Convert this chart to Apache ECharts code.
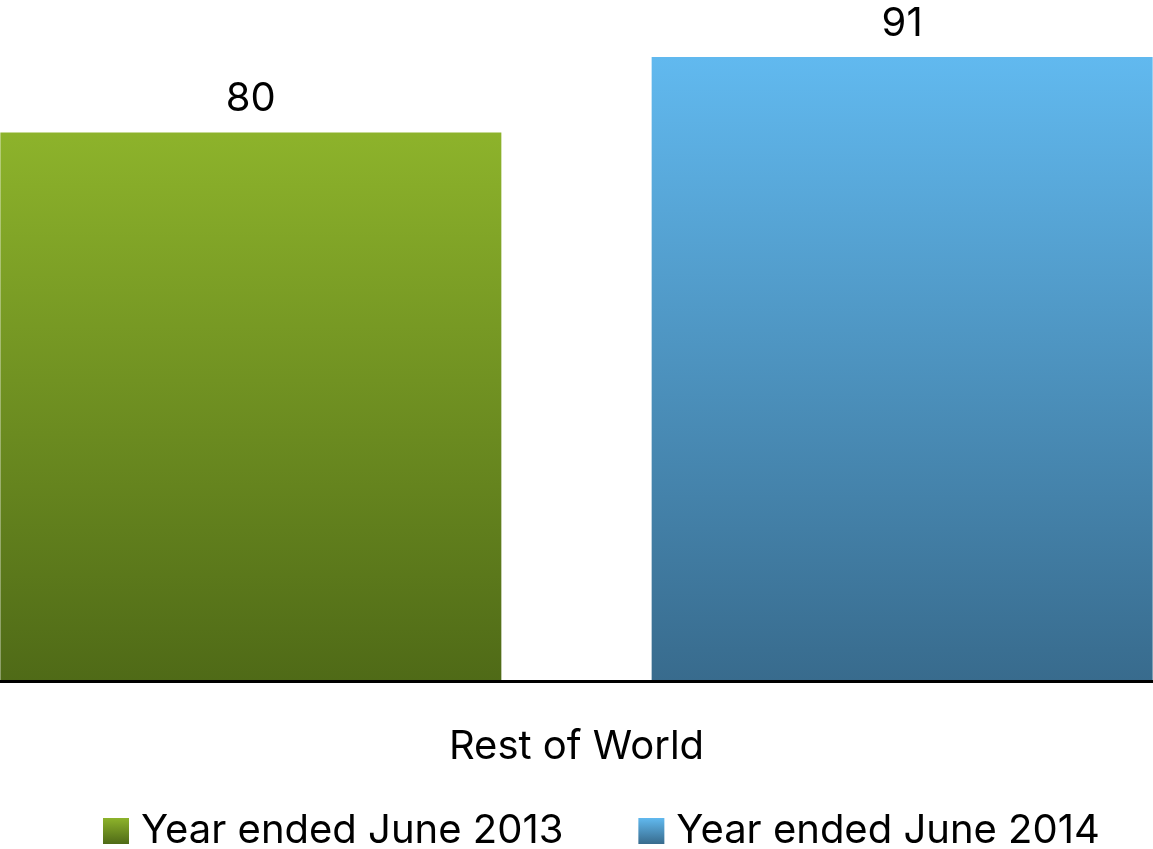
<!DOCTYPE html>
<html><head><meta charset="utf-8">
<script src="https://cdn.jsdelivr.net/npm/echarts@6/dist/echarts.min.js"></script>
<style>html,body{margin:0;padding:0;background:#fff}#c{width:1153px;height:849px}</style>
</head><body><div id="c"></div>
<script>
const categories = ['Rest of World'];
const seriesNames = ['Year ended June 2013', 'Year ended June 2014'];
const values2013 = [80];
const values2014 = [91];

const FONT = 'Inter';
function grad(top, bottom) {
  return new echarts.graphic.LinearGradient(0, 0, 0, 1, [
    { offset: 0, color: top }, { offset: 1, color: bottom }
  ]);
}
const chart = echarts.init(document.getElementById('c'));
chart.setOption({
  animation: false,
  textStyle: { fontFamily: FONT },
  grid: { left: 0, right: 0, top: 0, bottom: 167.5, containLabel: false },
  legend: {
    bottom: -7, left: 98,
    itemWidth: 26, itemHeight: 26, itemGap: 75,
    icon: 'rect',
    textStyle: { fontSize: 40, color: '#000', fontFamily: FONT, padding: [0, 0, 0, 7] },
    data: seriesNames
  },
  xAxis: {
    type: 'category', data: categories, z: 5,
    axisLine: { lineStyle: { color: '#000', width: 3 } },
    axisTick: { show: false },
    axisLabel: { fontSize: 40, color: '#000', margin: 45, fontFamily: FONT }
  },
  yAxis: { type: 'value', min: 0, max: 99.3, show: false, splitLine: { show: false } },
  series: [
    { name: seriesNames[0], type: 'bar', data: values2013, barWidth: 501, barGap: '30%',
      itemStyle: { color: grad('#8DB32B', '#4F6A17') },
      label: { show: true, position: 'top', distance: 13, fontSize: 40, color: '#000', fontFamily: FONT } },
    { name: seriesNames[1], type: 'bar', data: values2014, barWidth: 501,
      itemStyle: { color: grad('#61B9EF', '#386B8D') },
      label: { show: true, position: 'top', distance: 13, fontSize: 40, color: '#000', fontFamily: FONT } }
  ]
});
</script></body></html>
